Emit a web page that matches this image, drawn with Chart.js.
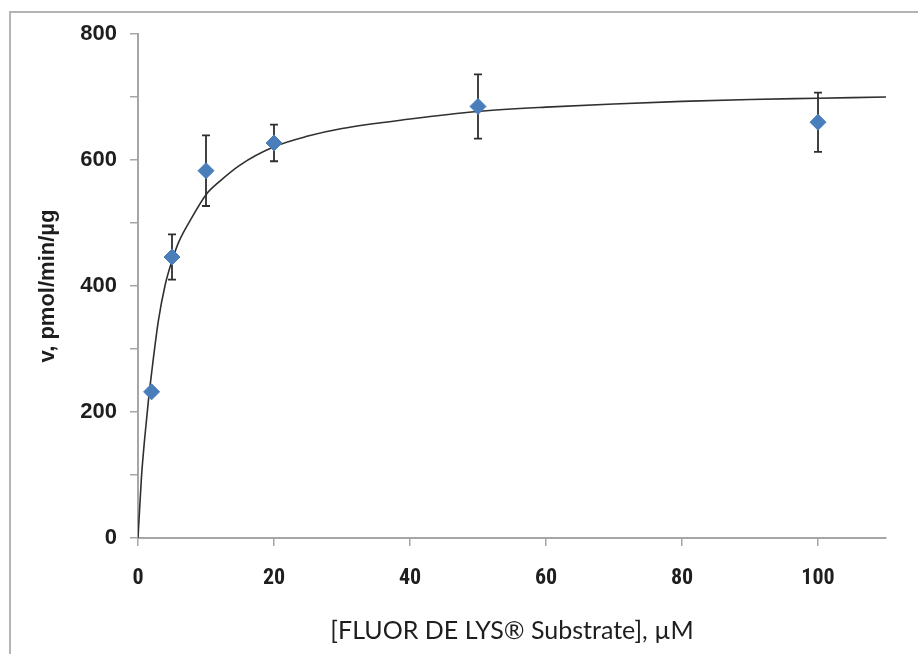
<!DOCTYPE html>
<html>
<head>
<meta charset="utf-8">
<script src="https://cdn.jsdelivr.net/npm/chart.js@4.4.1/dist/chart.umd.min.js"></script>
<style>
    html, body { margin: 0; padding: 0; background: #fff; }
    #wrap { position: relative; width: 918px; height: 654px; overflow: hidden; }
    #frame { position: absolute; left: 9px; top: 11px; width: 1000px; height: 1000px; border: 2px solid #b4b4b4; box-sizing: border-box; }
    #kinetics { position: absolute; left: 0; top: 0; }
</style>
</head>
<body>
<div id="wrap">
    <div id="frame"></div>
    <canvas id="kinetics" width="918" height="654"></canvas>
</div>
<script>
// measured points, substrate in uM
const substrate = [2, 5, 10, 20, 50, 100];
const rate = [232, 446, 583, 627, 685, 660];
const rateErr = [5, 36, 56, 29, 51, 47];

// fitted curve
const fitX = [0, 0.5, 1, 1.5, 2, 3, 4, 5, 6, 8, 10, 12, 15, 20, 25, 30, 40, 50, 60, 70, 80, 90, 100, 110];
const fitY = [0, 95, 160, 215, 262, 345, 402, 440, 470, 510, 545, 566, 592, 621, 638, 650, 665, 677, 684, 689, 693, 696, 698, 700];

const yTicks = [0, 200, 400, 600, 800];

const points = substrate.map((x, i) => ({ x: x, y: rate[i] }));
const curve = fitX.map((x, i) => ({ x: x, y: fitY[i] }));

// simple error bar drawing, uses the chart scales
const errorBars = {
    id: 'errorBars',
    beforeDatasetsDraw(chart) {
        const ctx = chart.ctx;
        const xs = chart.scales.x;
        const ys = chart.scales.y;
        ctx.save();
        ctx.strokeStyle = '#2e2e2e';
        ctx.lineWidth = 1.8;
        substrate.forEach((x, i) => {
            const px = xs.getPixelForValue(x);
            const top = ys.getPixelForValue(rate[i] + rateErr[i]);
            const bot = ys.getPixelForValue(rate[i] - rateErr[i]);
            ctx.beginPath();
            ctx.moveTo(px, top); ctx.lineTo(px, bot);
            ctx.moveTo(px - 4, top); ctx.lineTo(px + 4, top);
            ctx.moveTo(px - 4, bot); ctx.lineTo(px + 4, bot);
            ctx.stroke();
        });
        ctx.restore();
    }
};

const ctx = document.getElementById('kinetics').getContext('2d');
new Chart(ctx, {
    type: 'scatter',
    data: {
        datasets: [{
            label: 'v',
            data: points,
            pointStyle: 'rectRot',
            pointRadius: 8,
            backgroundColor: '#4a7ebb',
            borderColor: '#4a7ebb',
            order: 1
        }, {
            type: 'line',
            label: 'fit',
            data: curve,
            borderColor: '#303030',
            borderWidth: 1.6,
            pointRadius: 0,
            cubicInterpolationMode: 'monotone',
            fill: false,
            order: 2
        }]
    },
    options: {
        responsive: false,
        animation: false,
        layout: { padding: { top: 34, right: 32, bottom: 0, left: 0 } },
        plugins: {
            legend: { display: false },
            tooltip: { enabled: false }
        },
        scales: {
            x: {
                type: 'linear',
                min: 0,
                max: 110,
                afterFit: s => { s.height = 116; },
                grid: { drawOnChartArea: false, tickLength: 8, color: '#a6a6a6', lineWidth: 1.5 },
                border: { color: '#a6a6a6', width: 2 },
                ticks: {
                    stepSize: 20,
                    includeBounds: false,
                    padding: 19,
                    color: '#1e1e1e',
                    font: { family: "'Liberation Sans Narrow', 'Roboto Condensed', 'Liberation Sans', sans-serif", size: 22, weight: 'bold' }
                },
                title: {
                    display: true,
                    text: '[FLUOR DE LYS® Substrate], µM',
                    color: '#1e1e1e',
                    padding: { top: 0, bottom: 8 },
                    font: { family: 'Lato, sans-serif', size: 25 }
                }
            },
            y: {
                min: 0,
                max: 800,
                afterFit: s => { s.width = 138; },
                grid: { drawOnChartArea: false, tickLength: 8, color: '#a6a6a6', lineWidth: 1.5 },
                border: { color: '#a6a6a6', width: 2 },
                ticks: {
                    stepSize: 100,
                    padding: 13,
                    color: '#1e1e1e',
                    font: { family: "'Liberation Sans', Arial, sans-serif", size: 22, weight: 'bold' },
                    callback: v => yTicks.includes(v) ? v : ''
                },
                title: {
                    display: true,
                    text: 'v, pmol/min/µg',
                    color: '#1e1e1e',
                    padding: { top: 35, bottom: 0 },
                    font: { family: "'Liberation Sans', Arial, sans-serif", size: 22, weight: 'bold' }
                }
            }
        }
    },
    plugins: [errorBars]
});
</script>
</body>
</html>
